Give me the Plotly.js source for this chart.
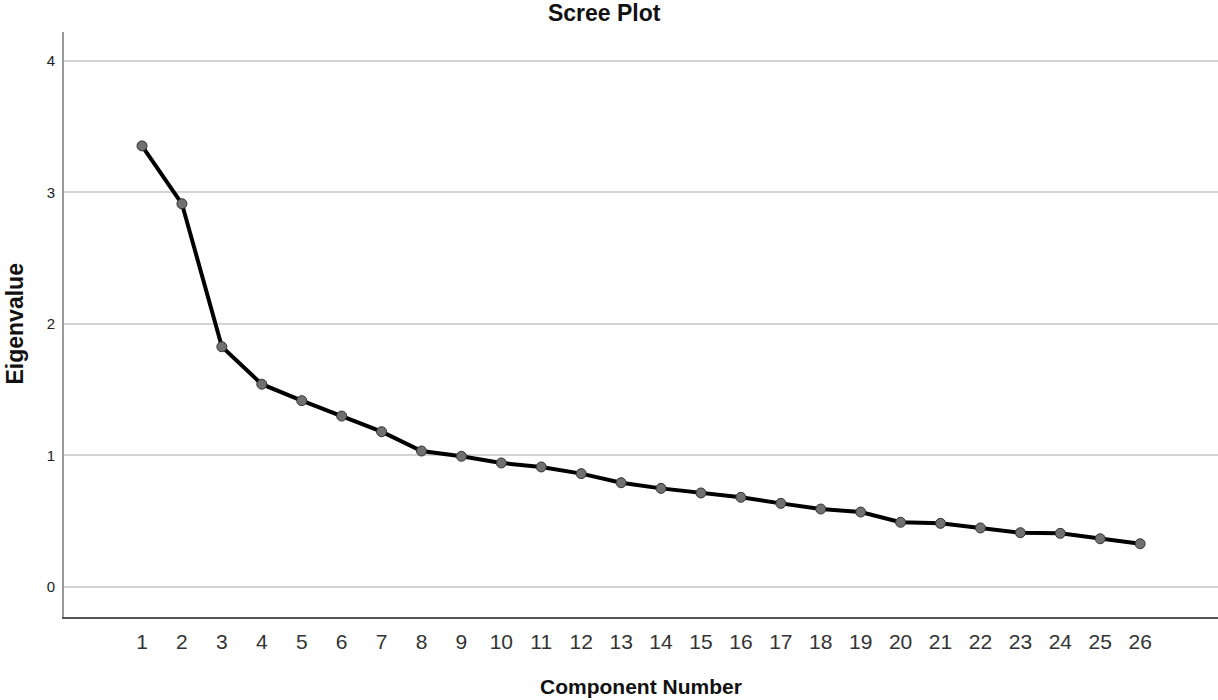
<!DOCTYPE html>
<html>
<head>
<meta charset="utf-8">
<script src="https://cdn.plot.ly/plotly-3.0.1.min.js"></script>
<style>html,body{margin:0;padding:0;background:#fff;}#chart{width:1218px;height:700px;}</style>
</head>
<body>
<div id="chart"></div>
<script>
const components = [1,2,3,4,5,6,7,8,9,10,11,12,13,14,15,16,17,18,19,20,21,22,23,24,25,26];
const eigenvalues = [3.354,2.914,1.827,1.542,1.417,1.300,1.181,1.034,0.994,0.943,0.913,0.862,0.793,0.750,0.715,0.682,0.636,0.593,0.570,0.492,0.484,0.449,0.413,0.408,0.367,0.329];
const yTicks = [0,1,2,3,4];

const trace = {
  x: components, y: eigenvalues, type: 'scatter', mode: 'lines+markers',
  line: {color: '#000', width: 4},
  marker: {size: 10, color: '#707070', line: {color: '#333', width: 1}},
  hoverinfo: 'x+y'
};

const layout = {
  width: 1218, height: 700,
  margin: {l: 64, r: 0, t: 32, b: 83},
  paper_bgcolor: '#fff', plot_bgcolor: '#fff',
  showlegend: false,
  font: {family: 'Liberation Sans, Arial, sans-serif', color: '#222'},
  xaxis: {
    range: [-0.954, 27.95], tickvals: components, ticktext: components.map(String),
    showgrid: false, zeroline: false, showline: true, linecolor: '#555', linewidth: 1.5,
    ticks: '', ticklabelstandoff: 5,
    tickfont: {size: 21, color: '#333'}
  },
  yaxis: {
    range: [-0.228, 4.22], tickvals: yTicks, ticktext: yTicks.map(String),
    showgrid: true, gridcolor: '#d4d4d4', gridwidth: 2,
    zeroline: false, showline: true, linecolor: '#999', linewidth: 2,
    ticks: '', ticklabelstandoff: 4,
    tickfont: {size: 15, color: '#222'}
  },
  title: {text: '<b>Scree Plot</b>', font: {size: 23, color: '#111'}, x: 0.496, xref: 'container', y: 0.982, yref: 'container', yanchor: 'middle'},
  annotations: [
    {
      text: '<b>Component Number</b>', xref: 'paper', yref: 'paper', x: 0.5, y: 0,
      yshift: -82, showarrow: false, font: {size: 21, color: '#111'}, xanchor: 'center', yanchor: 'bottom',
      borderpad: 0
    },
    {
      text: '<b>Eigenvalue</b>', xref: 'paper', yref: 'paper', x: 0, y: 0.5, textangle: -90,
      xshift: -50, showarrow: false, font: {size: 23, color: '#111'}, xanchor: 'center', yanchor: 'middle'
    }
  ]
};

Plotly.newPlot('chart', [trace], layout, {displayModeBar: false, staticPlot: true});
</script>
</body>
</html>
